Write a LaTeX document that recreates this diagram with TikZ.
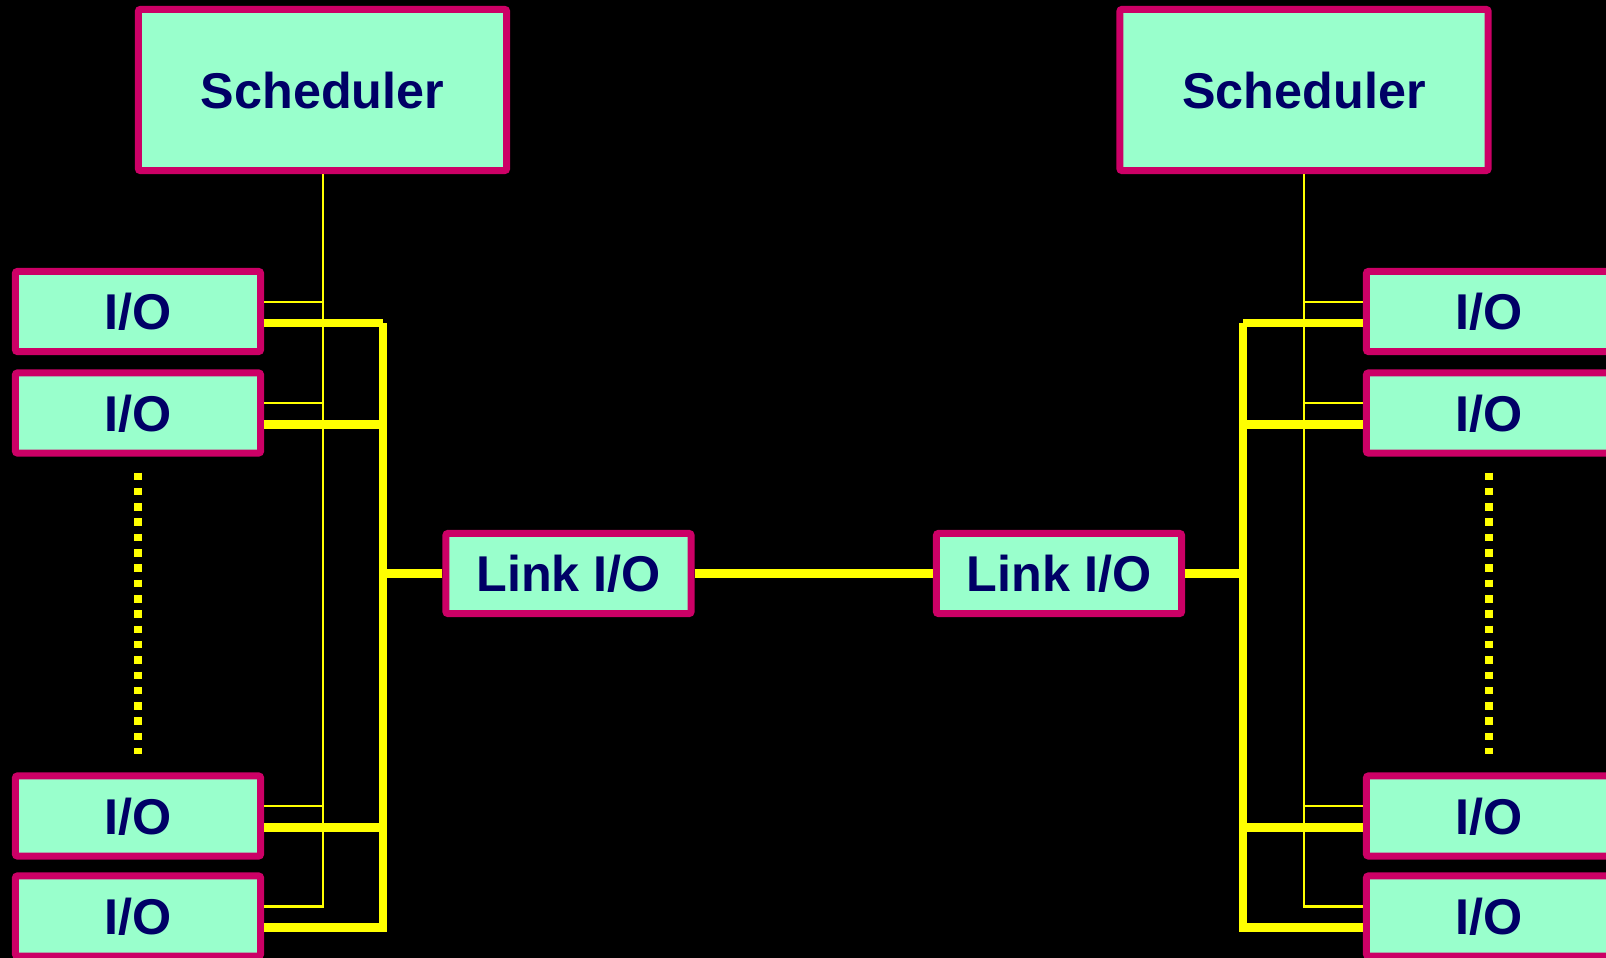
\documentclass[tikz,border=0pt]{standalone}
\usepackage{fontspec}
\setmainfont{Liberation Sans}
\definecolor{boxfill}{HTML}{99FFCC}
\definecolor{boxline}{HTML}{CC0066}
\definecolor{boxtext}{HTML}{000066}
\definecolor{wire}{HTML}{FFFF00}

\tikzset{
  unit/.style={draw=boxline, fill=boxfill, line width=0.07cm, rounded corners=0.02cm,
    text=boxtext, font=\bfseries\fontsize{14.3}{17}\selectfont,
    inner sep=0pt, text height=0.36cm, text depth=0pt},
  iobox/.style={unit, minimum width=2.45cm, minimum height=0.80cm},
  schedbox/.style={unit, minimum width=3.68cm, minimum height=1.61cm},
  bus/.style={draw=wire, line width=0.085cm},
  ctrl/.style={draw=wire, line width=0.02cm},
  dots/.style={draw=wire, line width=0.08cm, dash pattern=on 0.075cm off 0.078cm}
}

\begin{document}
\begin{tikzpicture}[x=0.01cm, y=-0.01cm]
% black backdrop, also fixes the page size
\fill[black] (0,0) rectangle (1606,958);
\useasboundingbox (0,0) rectangle (1606,958);
% the two schedulers
\node[schedbox] (schedL) at (322.5,90) {Scheduler};
\node[schedbox] (schedR) at (1304,90) {Scheduler};
% link units
\node[iobox] (linkL) at (568.5,573.5) {Link I/O};
\node[iobox] (linkR) at (1059,573.5) {Link I/O};
% I/O units -- left and right column
\foreach \n/\y in {1/311.5, 2/413, 3/816, 4/916} {
  \node[iobox] (ioL\n) at (138,\y) {I/O};
  \node[iobox] (ioR\n) at (1489,\y) {I/O};
}
% where the buses turn down
\path ([yshift=-0.115cm]ioL1.east) ++(119,0) coordinate (busL);
\path ([yshift=-0.115cm]ioR1.west) ++(-120,0) coordinate (busR);
% control lines and data buses
\foreach \n in {1,...,4} {
  \draw[ctrl] ([yshift=0.095cm]ioL\n.east) -| (schedL.south);
  \draw[ctrl] ([yshift=0.095cm]ioR\n.west) -| (schedR.south);
  \draw[bus] ([yshift=-0.115cm]ioL\n.east) -| (busL);
  \draw[bus] ([yshift=-0.115cm]ioR\n.west) -| (busR);
}
\draw[bus] (linkL.west) -| (busL);
\draw[bus] (linkR.east) -| (busR);
\draw[bus] (linkL.east) -- (linkR.west);
% the units left out
\draw[dots] ([yshift=-0.16cm]ioL2.south) -- ([yshift=0.18cm]ioL3.north);
\draw[dots] ([yshift=-0.16cm]ioR2.south) -- ([yshift=0.18cm]ioR3.north);
\end{tikzpicture}
\end{document}
